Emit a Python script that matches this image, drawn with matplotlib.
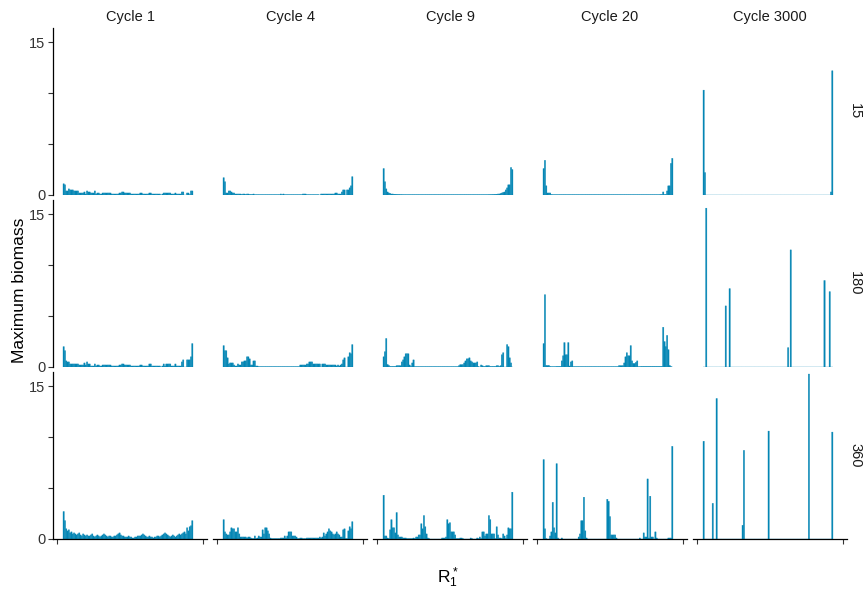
import numpy as np
import matplotlib
matplotlib.use("Agg")
import matplotlib.pyplot as plt

plt.rcParams['font.family'] = ['Liberation Sans', 'DejaVu Sans']
plt.rcParams['mathtext.default'] = 'regular'

cycles = ['Cycle 1', 'Cycle 4', 'Cycle 9', 'Cycle 20', 'Cycle 3000']
periods = ['15', '180', '360']

# maximum biomass per R1* bin (100 bins), period 15
c1_p15 = [1.1, 1.0, 0.4, 0.4, 0.6, 0.5, 0.5, 0.5, 0.4, 0.4,
          0.4, 0.4, 0.2, 0.2, 0.2, 0.2, 0.3, 0.1, 0.4, 0.3,
          0.3, 0.2, 0.2, 0.2, 0.4, 0.1, 0.2, 0.2, 0.1, 0.1,
          0.2, 0.2, 0.2, 0.2, 0.2, 0.2, 0.2, 0.1, 0.1, 0.1,
          0.1, 0.1, 0.1, 0.2, 0.2, 0.3, 0.3, 0.2, 0.2, 0.2,
          0.2, 0.2, 0.1, 0.1, 0.1, 0.1, 0.1, 0.1, 0.1, 0.2,
          0.2, 0.1, 0.1, 0.1, 0.1, 0.1, 0.2, 0.2, 0.1, 0.1,
          0.1, 0.1, 0.1, 0.1, 0.1, 0.0, 0.1, 0.2, 0.2, 0.2,
          0.2, 0.2, 0.2, 0.1, 0.1, 0.1, 0.2, 0.1, 0.1, 0.1,
          0.1, 0.3, 0.3, 0.0, 0.0, 0.2, 0.2, 0.03, 0.4, 0.4]
c4_p15 = [1.7, 1.3, 0.2, 0.2, 0.4, 0.4, 0.3, 0.2, 0.2, 0.1,
          0.1, 0.1, 0.1, 0.1, 0.05, 0.1, 0.1, 0.05, 0.1, 0.1,
          0.05, 0.05, 0.05, 0.1, 0.03, 0.03, 0.03, 0.03, 0.03, 0.03,
          0.03, 0.03, 0.03, 0.03, 0.03, 0.03, 0.03, 0.03, 0.03, 0.03,
          0.03, 0.03, 0.03, 0.03, 0.1, 0.03, 0.1, 0.03, 0.03, 0.03,
          0.03, 0.03, 0.03, 0.03, 0.03, 0.03, 0.03, 0.03, 0.03, 0.03,
          0.03, 0.1, 0.1, 0.1, 0.03, 0.03, 0.03, 0.03, 0.03, 0.03,
          0.03, 0.03, 0.03, 0.03, 0.0, 0.1, 0.1, 0.1, 0.1, 0.1,
          0.1, 0.1, 0.1, 0.1, 0.1, 0.1, 0.2, 0.2, 0.1, 0.1,
          0.1, 0.3, 0.5, 0.5, 0.0, 0.5, 0.5, 0.7, 0.9, 1.8]
c9_p15 = [2.6, 1.3, 0.6, 0.3, 0.2, 0.15, 0.1, 0.1, 0.08, 0.07,
          0.06, 0.05, 0.05, 0.04, 0.04, 0.03, 0.03, 0.03, 0.03, 0.03,
          0.03, 0.03, 0.03, 0.03, 0.03, 0.03, 0.03, 0.03, 0.03, 0.03,
          0.03, 0.03, 0.03, 0.03, 0.03, 0.03, 0.03, 0.03, 0.03, 0.03,
          0.03, 0.03, 0.03, 0.03, 0.03, 0.03, 0.03, 0.03, 0.03, 0.03,
          0.03, 0.03, 0.03, 0.03, 0.03, 0.03, 0.03, 0.03, 0.03, 0.03,
          0.03, 0.03, 0.03, 0.03, 0.03, 0.03, 0.03, 0.03, 0.03, 0.03,
          0.03, 0.03, 0.03, 0.03, 0.03, 0.03, 0.03, 0.03, 0.03, 0.03,
          0.03, 0.04, 0.04, 0.05, 0.05, 0.06, 0.07, 0.08, 0.1, 0.1,
          0.15, 0.2, 0.25, 0.3, 0.5, 0.7, 1.0, 1.0, 2.7, 2.5]
c20_p15 = [2.6, 3.4, 0.9, 0.2, 0.2, 0.2, 0.05, 0.03, 0.03, 0.03,
           0.03, 0.03, 0.03, 0.03, 0.03, 0.03, 0.03, 0.03, 0.03, 0.03,
           0.03, 0.03, 0.03, 0.03, 0.03, 0.03, 0.03, 0.03, 0.03, 0.03,
           0.03, 0.03, 0.03, 0.03, 0.03, 0.03, 0.03, 0.03, 0.03, 0.03,
           0.03, 0.03, 0.03, 0.03, 0.03, 0.03, 0.03, 0.03, 0.03, 0.03,
           0.03, 0.03, 0.03, 0.03, 0.03, 0.03, 0.03, 0.03, 0.03, 0.03,
           0.03, 0.03, 0.03, 0.03, 0.03, 0.03, 0.03, 0.03, 0.03, 0.03,
           0.03, 0.03, 0.03, 0.03, 0.03, 0.03, 0.03, 0.03, 0.03, 0.03,
           0.03, 0.03, 0.03, 0.03, 0.03, 0.03, 0.03, 0.03, 0.03, 0.03,
           0.05, 0.05, 0.3, 0.05, 0.05, 0.4, 0.9, 0.9, 3.1, 3.6]
c3000_p15_bin = [0, 1, 98, 99]
c3000_p15_val = [10.3, 2.2, 0.3, 12.2]

# period 180
c1_p180 = [2.0, 1.6, 0.6, 0.5, 0.5, 0.3, 0.3, 0.3, 0.3, 0.3,
           0.3, 0.3, 0.2, 0.2, 0.2, 0.2, 0.4, 0.2, 0.5, 0.3,
           0.3, 0.1, 0.1, 0.1, 0.3, 0.1, 0.2, 0.2, 0.1, 0.1,
           0.2, 0.2, 0.2, 0.2, 0.2, 0.2, 0.2, 0.1, 0.1, 0.1,
           0.1, 0.1, 0.1, 0.2, 0.2, 0.3, 0.3, 0.2, 0.2, 0.2,
           0.2, 0.2, 0.1, 0.1, 0.1, 0.1, 0.1, 0.1, 0.1, 0.2,
           0.2, 0.1, 0.1, 0.1, 0.1, 0.1, 0.3, 0.3, 0.1, 0.1,
           0.1, 0.1, 0.1, 0.1, 0.1, 0.0, 0.1, 0.3, 0.1, 0.3,
           0.3, 0.3, 0.3, 0.1, 0.1, 0.1, 0.3, 0.1, 0.1, 0.1,
           0.1, 0.5, 0.7, 0.0, 0.0, 0.7, 0.7, 0.7, 1.0, 2.3]
c4_p180 = [2.1, 1.6, 1.6, 0.9, 0.3, 0.4, 0.4, 0.4, 0.2, 0.1,
           0.1, 0.3, 0.2, 0.2, 0.5, 0.5, 0.6, 0.6, 1.0, 1.0,
           0.8, 0.2, 0.2, 0.6, 0.6, 0.1, 0.1, 0.03, 0.03, 0.03,
           0.03, 0.03, 0.03, 0.03, 0.03, 0.03, 0.03, 0.03, 0.03, 0.03,
           0.03, 0.03, 0.03, 0.03, 0.03, 0.03, 0.03, 0.03, 0.03, 0.03,
           0.03, 0.03, 0.03, 0.03, 0.03, 0.03, 0.03, 0.03, 0.03, 0.2,
           0.2, 0.2, 0.2, 0.2, 0.3, 0.3, 0.5, 0.5, 0.5, 0.3,
           0.3, 0.3, 0.3, 0.3, 0.3, 0.0, 0.3, 0.3, 0.3, 0.2,
           0.2, 0.2, 0.2, 0.2, 0.2, 0.2, 0.2, 0.1, 0.2, 0.1,
           0.2, 0.3, 0.7, 0.9, 0.0, 0.0, 1.0, 1.4, 1.3, 2.2]
c9_p180 = [1.0, 1.5, 2.8, 0.25, 0.15, 0.05, 0.05, 0.05, 0.05, 0.05,
           0.13, 0.13, 0.13, 0.13, 0.5, 0.7, 1.0, 1.3, 1.3, 1.3,
           0.2, 0.05, 0.4, 0.7, 0.03, 0.03, 0.03, 0.03, 0.03, 0.03,
           0.03, 0.03, 0.03, 0.03, 0.03, 0.03, 0.03, 0.03, 0.03, 0.03,
           0.03, 0.03, 0.03, 0.03, 0.03, 0.03, 0.03, 0.03, 0.03, 0.03,
           0.03, 0.03, 0.03, 0.03, 0.03, 0.03, 0.03, 0.03, 0.13, 0.23,
           0.23, 0.23, 0.4, 0.6, 0.8, 0.8, 0.9, 0.6, 0.5, 0.4,
           0.4, 0.4, 0.5, 0.05, 0.0, 0.2, 0.13, 0.05, 0.05, 0.13,
           0.13, 0.13, 0.05, 0.05, 0.05, 0.05, 0.05, 0.13, 0.13, 0.05,
           0.13, 1.2, 1.4, 0.0, 0.0, 2.2, 2.0, 0.9, 0.4, 0.0]
c20_p180 = [2.3, 7.1, 0.15, 0.15, 0.15, 0.05, 0.03, 0.03, 0.03, 0.03,
            0.05, 0.05, 0.05, 0.05, 0.6, 1.1, 2.4, 1.2, 1.2, 2.4,
            0.1, 0.5, 0.6, 0.03, 0.03, 0.03, 0.03, 0.03, 0.03, 0.03,
            0.03, 0.03, 0.03, 0.03, 0.03, 0.03, 0.03, 0.03, 0.03, 0.03,
            0.03, 0.03, 0.03, 0.03, 0.03, 0.03, 0.03, 0.03, 0.03, 0.03,
            0.03, 0.03, 0.03, 0.03, 0.03, 0.03, 0.03, 0.03, 0.13, 0.13,
            0.13, 0.13, 0.4, 1.0, 1.4, 1.1, 1.1, 2.1, 0.6, 0.35,
            0.35, 0.45, 0.6, 0.03, 0.03, 0.05, 0.05, 0.05, 0.05, 0.05,
            0.05, 0.05, 0.05, 0.05, 0.05, 0.05, 0.05, 0.05, 0.05, 0.05,
            0.05, 0.05, 3.9, 2.5, 2.0, 3.1, 1.7, 0.15, 0.05, 0.0]
c3000_p180_bin = [2, 17, 20, 65, 67, 93, 97]
c3000_p180_val = [15.6, 6.0, 7.7, 1.9, 11.5, 8.5, 7.4]

# period 360
c1_p360 = [2.7, 1.8, 1.0, 0.8, 0.9, 0.6, 0.7, 0.5, 0.6, 0.5,
           0.4, 0.5, 0.6, 0.4, 0.3, 0.5, 0.4, 0.3, 0.4, 0.3,
           0.3, 0.4, 0.5, 0.3, 0.2, 0.3, 0.4, 0.3, 0.2, 0.3,
           0.4, 0.5, 0.4, 0.3, 0.2, 0.3, 0.3, 0.2, 0.2, 0.3,
           0.3, 0.4, 0.5, 0.6, 0.4, 0.3, 0.3, 0.2, 0.2, 0.2,
           0.3, 0.2, 0.2, 0.1, 0.1, 0.2, 0.2, 0.3, 0.3, 0.3,
           0.4, 0.5, 0.4, 0.3, 0.2, 0.2, 0.3, 0.2, 0.2, 0.1,
           0.2, 0.2, 0.3, 0.3, 0.2, 0.3, 0.4, 0.5, 0.6, 0.5,
           0.4, 0.3, 0.2, 0.3, 0.4, 0.3, 0.2, 0.3, 0.4, 0.5,
           0.4, 0.5, 0.6, 0.7, 0.5, 1.1, 0.8, 1.2, 1.3, 1.8]
c4_p360 = [1.9, 0.7, 0.5, 0.4, 0.4, 0.7, 1.1, 1.0, 1.0, 0.7,
           0.7, 1.1, 0.5, 0.2, 0.2, 0.2, 0.2, 0.2, 0.1, 0.2,
           0.2, 0.1, 0.03, 0.03, 0.3, 0.03, 0.1, 0.3, 0.2, 0.2,
           0.9, 0.5, 1.1, 1.1, 0.8, 0.5, 0.1, 0.03, 0.03, 0.03,
           0.03, 0.03, 0.03, 0.03, 0.1, 0.1, 0.1, 0.3, 0.1, 0.3,
           0.7, 0.7, 0.7, 0.3, 0.3, 0.3, 0.2, 0.03, 0.03, 0.1,
           0.1, 0.03, 0.03, 0.03, 0.1, 0.1, 0.1, 0.1, 0.1, 0.1,
           0.1, 0.1, 0.1, 0.1, 0.2, 0.1, 0.2, 0.6, 0.3, 0.5,
           0.7, 1.0, 0.8, 0.7, 0.5, 0.4, 0.5, 0.7, 0.5, 0.4,
           0.2, 0.2, 0.9, 1.0, 0.03, 0.03, 0.8, 1.2, 1.0, 1.7]
c9_p360 = [4.3, 0.3, 0.3, 0.1, 0.03, 0.9, 1.9, 1.1, 1.1, 0.6,
           2.6, 0.4, 0.2, 0.2, 0.2, 0.1, 0.1, 0.1, 0.03, 0.03,
           0.03, 0.03, 0.03, 0.1, 0.03, 0.2, 0.2, 0.4, 0.4, 1.5,
           1.0, 2.3, 1.2, 0.5, 0.1, 0.03, 0.0, 0.0, 0.0, 0.0,
           0.0, 0.0, 0.0, 0.0, 0.0, 0.1, 0.1, 0.1, 0.2, 1.9,
           1.5, 1.6, 0.7, 0.7, 0.7, 0.4, 0.03, 0.03, 0.03, 0.1,
           0.1, 0.03, 0.0, 0.0, 0.0, 0.0, 0.0, 0.1, 0.03, 0.0,
           0.0, 0.0, 0.1, 0.03, 0.2, 0.03, 0.7, 0.7, 0.3, 0.5,
           0.5, 2.3, 1.9, 0.5, 0.5, 0.5, 0.03, 1.2, 0.4, 0.1,
           0.1, 0.03, 0.5, 0.3, 0.03, 0.4, 1.1, 1.0, 1.0, 4.6]
c20_p360 = [7.8, 1.0, 0.03, 0.0, 0.0, 0.3, 0.7, 3.6, 1.1, 0.6,
            7.4, 0.1, 0.0, 0.0, 0.1, 0.0, 0.0, 0.0, 0.0, 0.0,
            0.0, 0.0, 0.0, 0.0, 0.0, 0.0, 0.0, 0.2, 0.5, 1.8,
            1.8, 4.1, 0.8, 0.1, 0.0, 0.0, 0.0, 0.0, 0.0, 0.0,
            0.0, 0.0, 0.0, 0.0, 0.0, 0.0, 0.0, 0.0, 0.0, 3.9,
            3.7, 2.2, 0.4, 0.4, 0.4, 0.4, 0.1, 0.0, 0.0, 0.0,
            0.0, 0.0, 0.0, 0.0, 0.0, 0.0, 0.0, 0.0, 0.0, 0.0,
            0.0, 0.0, 0.0, 0.0, 0.1, 0.0, 0.0, 0.6, 0.2, 0.2,
            5.9, 0.1, 4.2, 0.2, 0.2, 0.0, 0.7, 0.1, 0.0, 0.0,
            0.0, 0.0, 0.0, 0.0, 0.0, 0.0, 0.1, 0.1, 0.1, 9.1]
c3000_p360_bin = [0, 7, 10, 30, 31, 50, 81, 99]
c3000_p360_val = [9.6, 3.5, 13.8, 1.35, 8.7, 10.6, 16.2, 10.5]

nbins = 100


def sparse(bins, vals):
    out = np.zeros(nbins)
    out[bins] = vals
    return out


panels = [
    [c1_p15, c4_p15, c9_p15, c20_p15, sparse(c3000_p15_bin, c3000_p15_val)],
    [c1_p180, c4_p180, c9_p180, c20_p180, sparse(c3000_p180_bin, c3000_p180_val)],
    [c1_p360, c4_p360, c9_p360, c20_p360, sparse(c3000_p360_bin, c3000_p360_val)],
]

W, H = 865, 591
fig = plt.figure(figsize=(W / 100, H / 100), dpi=100)
bar_color = '#0385b4'
x = np.arange(nbins) + 0.5

for r in range(3):
    top = 28 + 172 * r
    for c in range(5):
        left = 53 + 160 * c
        ax = fig.add_axes([left / W, 1 - (top + 167) / H, 154 / W, 167 / H])
        bars = ax.bar(x, panels[r][c], width=1.0, color=bar_color,
                      edgecolor=bar_color, linewidth=0.25)
        for b in bars:
            b.set_snap(False)
        ax.set_xlim(-7.7, 110.8)
        ax.set_ylim(0, 16.4)
        for s in ['top', 'right']:
            ax.spines[s].set_visible(False)
        ax.spines['left'].set_visible(c == 0)
        ax.spines['bottom'].set_visible(r == 2)
        ax.spines['left'].set_linewidth(0.9)
        ax.spines['bottom'].set_linewidth(0.9)
        if c == 0:
            ax.set_yticks([0, 5, 10, 15])
            ax.set_yticklabels(['0', '', '', '15'])
            ax.tick_params(axis='y', length=3.5, width=0.8, color='#333333',
                           labelsize=10.5, labelcolor='#333333', pad=2)
        else:
            ax.set_yticks([])
        if r == 2:
            ax.set_xticks([-4.6, 107.7])
            ax.set_xticklabels(['', ''])
            ax.tick_params(axis='x', length=3.5, width=0.8, color='#333333')
        else:
            ax.set_xticks([])
        if r == 0:
            ax.text(0.5, 1 + 11 / 167, cycles[c], transform=ax.transAxes,
                    ha='center', va='center', fontsize=10.5, color='#1a1a1a')
        if c == 4:
            ax.text(1 + 8 / 154, 0.5, periods[r], transform=ax.transAxes,
                    ha='center', va='center', rotation=-90, fontsize=10.5,
                    color='#1a1a1a')

fig.text(20 / W, 1 - 290 / H, 'Maximum biomass', rotation=90,
         ha='center', va='center', fontsize=12.5)
fig.text(448 / W, 1 - 578 / H, r'$\mathregular{R_1^*}$',
         ha='center', va='center', fontsize=12.5)

fig.savefig('out.png', dpi=100)
